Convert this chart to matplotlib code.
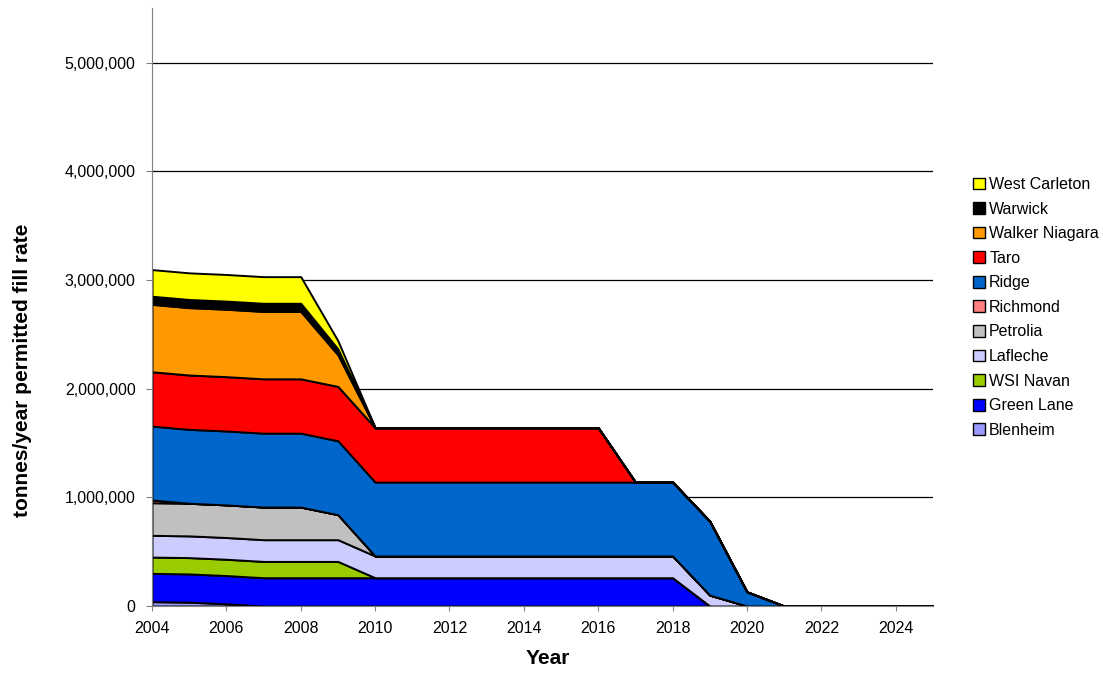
import matplotlib
matplotlib.use("Agg")
import matplotlib.pyplot as plt
from matplotlib.patches import Patch
from matplotlib.ticker import FuncFormatter

plt.rcParams['font.family'] = ['Liberation Sans', 'DejaVu Sans']

years = list(range(2004, 2026))

# permitted fill rate per site, tonnes/year, 2004-2025
blenheim       = [40000, 35000, 20000] + [0] * 19
green_lane     = [260000] * 15 + [0] * 7
wsi_navan      = [150000] * 6 + [0] * 16
lafleche       = [200000] * 15 + [100000] + [0] * 6
petrolia       = [300000] * 5 + [230000] + [0] * 16
richmond       = [25000] + [0] * 21
ridge          = [680000] * 16 + [130000] + [0] * 5
taro           = [500000] * 13 + [0] * 9
walker_niagara = [620000] * 5 + [290000] + [0] * 16
warwick        = [75000] * 5 + [55000] + [0] * 16
west_carleton  = [245000] * 5 + [75000] + [0] * 16

sites = ["Blenheim", "Green Lane", "WSI Navan", "Lafleche", "Petrolia", "Richmond",
         "Ridge", "Taro", "Walker Niagara", "Warwick", "West Carleton"]
series = [blenheim, green_lane, wsi_navan, lafleche, petrolia, richmond,
          ridge, taro, walker_niagara, warwick, west_carleton]
colors = ["#9999FF", "#0000FF", "#99CC00", "#CCCCFF", "#C0C0C0", "#FF8080",
          "#0066CC", "#FF0000", "#FF9900", "#000000", "#FFFF00"]

fig = plt.figure(figsize=(11.03, 6.77), dpi=100)
ax = fig.add_axes([0.1378, 0.1049, 0.708, 0.883])

for y in range(1000000, 6000000, 1000000):
    ax.axhline(y, color="black", lw=0.9, zorder=1)

ax.stackplot(years, *series, colors=colors, edgecolor="black", linewidth=1.4, zorder=2)

ax.set_xlim(2004, 2025)
ax.set_ylim(0, 5500000)
ax.set_xticks(range(2004, 2026, 2))
ax.set_yticks(range(0, 6000000, 1000000))
ax.yaxis.set_major_formatter(FuncFormatter(lambda v, p: "{:,.0f}".format(v)))
ax.tick_params(axis="y", direction="out", length=4.3, color="#808080", labelsize=11.5, pad=7.5)
ax.tick_params(axis="x", direction="out", length=3.6, color="#808080", labelsize=11.5, pad=7.5)

for s in ["top", "right"]:
    ax.spines[s].set_visible(False)
ax.spines["left"].set_color("#808080")
ax.spines["bottom"].set_color("#808080")

ax.set_xlabel("Year", fontsize=15, fontweight="bold")
ax.xaxis.set_label_coords(0.507, -0.072)
ax.set_ylabel("tonnes/year permitted fill rate", fontsize=15, fontweight="bold")
ax.yaxis.set_label_coords(-0.154, 0.395)

handles = [Patch(facecolor=c, edgecolor="black", linewidth=1) for c in colors[::-1]]
fig.legend(handles, sites[::-1], loc="upper left", bbox_to_anchor=(0.8765, 0.748),
           frameon=False, fontsize=11.5, handlelength=0.75, handleheight=0.75,
           handletextpad=0.25, labelspacing=0.6, borderaxespad=0)

fig.savefig("out.png", dpi=100)
